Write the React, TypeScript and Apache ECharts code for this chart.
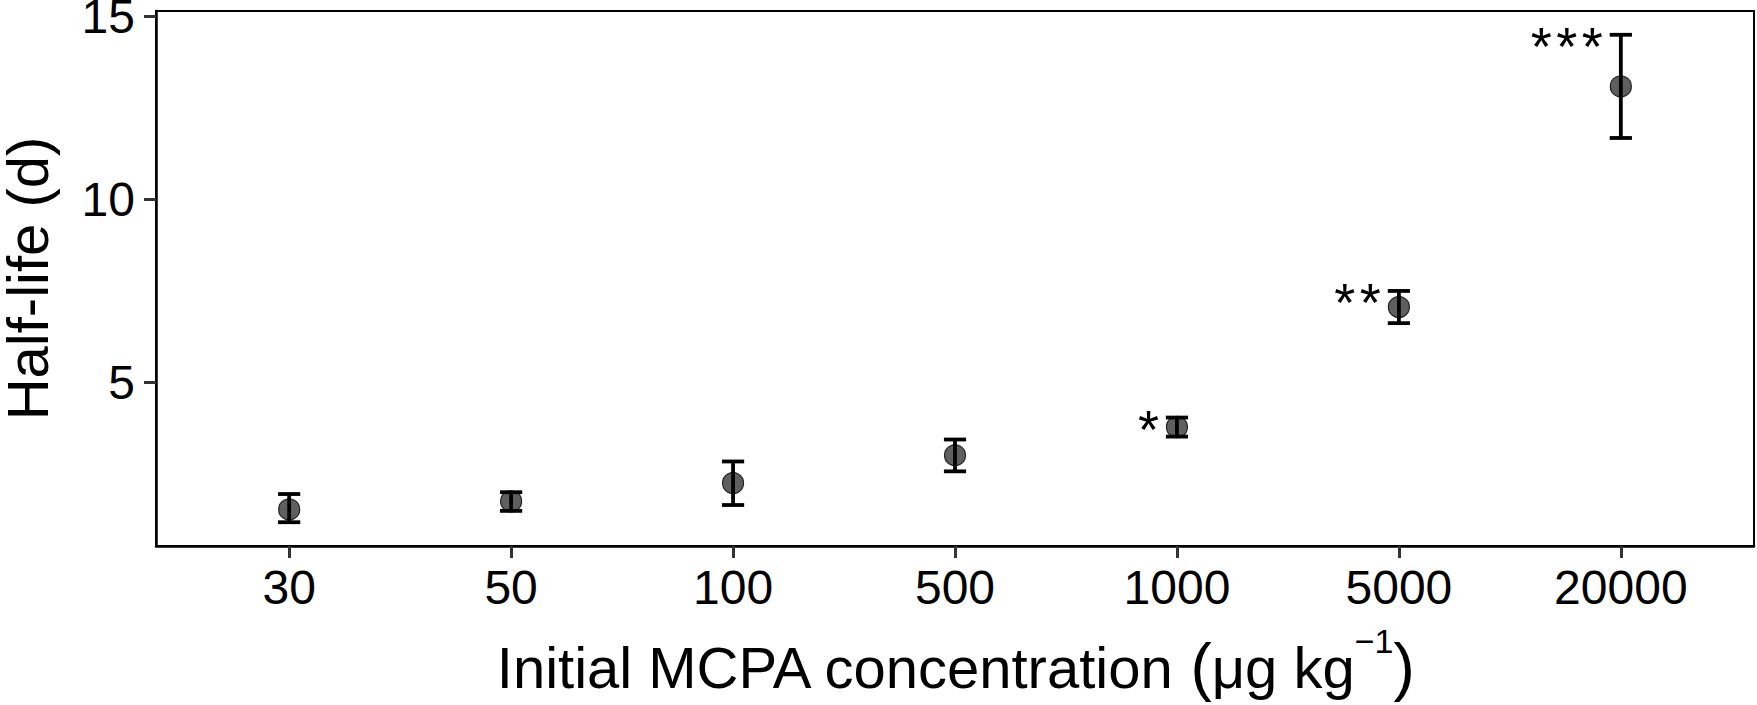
import React, { useEffect, useRef } from 'react';
import * as echarts from 'echarts';

const concentrations = ['30', '50', '100', '500', '1000', '5000', '20000'];
const halfLife = [1.52, 1.74, 2.24, 3.0, 3.77, 7.05, 13.08];
const upperErr = [1.94, 1.99, 2.83, 3.43, 4.03, 7.49, 14.49];
const lowerErr = [1.17, 1.48, 1.64, 2.56, 3.51, 6.61, 11.67];
const significance = ['', '', '', '', '*', '**', '***'];
const yTicks = [5, 10, 15];

const FONT = "'Liberation Sans', Arial, Helvetica, sans-serif";

export default function App() {
  const ref = useRef<HTMLDivElement>(null);

  useEffect(() => {
    const chart = echarts.init(ref.current as HTMLDivElement, null, { renderer: 'svg' });
    const idx = concentrations.map((_, i) => i);

    chart.setOption({
      animation: false,
      backgroundColor: '#ffffff',
      textStyle: { fontFamily: FONT },
      grid: {
        left: 156,
        right: 3,
        top: 11,
        bottom: 159,
        containLabel: false,
        outerBoundsMode: 'none',
        show: true,
        borderColor: '#000',
        borderWidth: 2,
        backgroundColor: 'transparent',
      },
      xAxis: {
        type: 'value',
        min: -0.6,
        max: 6.6,
        axisLine: { show: true, onZero: false, lineStyle: { color: '#000', width: 2.5 } },
        axisTick: {
          show: true,
          customValues: idx,
          length: 12,
          lineStyle: { color: '#333', width: 3 },
        },
        axisLabel: {
          customValues: idx,
          formatter: (v: number) => concentrations[Math.round(v)] ?? '',
          fontSize: 48,
          color: '#000',
          margin: 17,
          fontFamily: FONT,
        },
        splitLine: { show: false },
        name: '{base|Initial MCPA concentration }{paren|(}{base|μg kg}{sup|−1}{paren|)}',
        nameLocation: 'middle',
        nameGap: 92,
        nameTextStyle: {
          fontFamily: FONT,
          color: '#000',
          fontSize: 58,
          rich: {
            base: { fontSize: 58, fontFamily: FONT, color: '#000' },
            paren: { fontSize: 64, lineHeight: 58, fontFamily: FONT, color: '#000' },
            sup: {
              fontSize: 34,
              lineHeight: 6,
              padding: [0, 0, 52, 0],
              fontFamily: FONT,
              color: '#000',
            },
          },
        },
      },
      yAxis: {
        type: 'value',
        min: 0.52,
        max: 15.14,
        axisLine: { show: true, onZero: false, lineStyle: { color: '#000', width: 2.5 } },
        axisTick: {
          show: true,
          customValues: yTicks,
          length: 12,
          lineStyle: { color: '#333', width: 3 },
        },
        axisLabel: {
          customValues: yTicks,
          fontSize: 48,
          color: '#000',
          margin: 21,
          fontFamily: FONT,
        },
        splitLine: { show: false },
        name: 'Half-life (d)',
        nameLocation: 'middle',
        nameRotate: 90,
        nameGap: 100,
        nameTextStyle: { fontFamily: FONT, color: '#000', fontSize: 58 },
      },
      series: [
        {
          type: 'scatter',
          data: idx.map((i) => [i, halfLife[i]]),
          symbol: 'circle',
          symbolSize: 21,
          itemStyle: { color: '#5f5f5f', borderColor: '#222', borderWidth: 1.2, opacity: 1 },
          z: 2,
        },
        {
          type: 'custom',
          data: idx.map((i) => [i, lowerErr[i], upperErr[i]]),
          encode: { x: 0, y: [1, 2] },
          z: 3,
          renderItem: (params: any, api: any) => {
            const i = api.value(0);
            const lo = api.value(1);
            const hi = api.value(2);
            const top = api.coord([i, hi]);
            const bot = api.coord([i, lo]);
            const tl = api.coord([i - 0.05, hi]);
            const tr = api.coord([i + 0.05, hi]);
            const bl = api.coord([i - 0.05, lo]);
            const br = api.coord([i + 0.05, lo]);
            const style = { stroke: '#000', lineWidth: 3.8 };
            return {
              type: 'group',
              children: [
                { type: 'line', shape: { x1: top[0], y1: top[1], x2: bot[0], y2: bot[1] }, style },
                { type: 'line', shape: { x1: tl[0], y1: tl[1], x2: tr[0], y2: tr[1] }, style },
                { type: 'line', shape: { x1: bl[0], y1: bl[1], x2: br[0], y2: br[1] }, style },
                {
                  type: 'text',
                  x: top[0] - 18,
                  y: top[1] + 11,
                  style: {
                    text: significance[i].split('').join('\u200A'),
                    fontSize: 54,
                    fontFamily: FONT,
                    fill: '#000',
                    align: 'right',
                    verticalAlign: 'middle',
                  },
                },
              ],
            };
          },
        },
      ],
    });

    return () => {
      chart.dispose();
    };
  }, []);

  return (
    <div
      ref={ref}
      style={{ position: 'fixed', left: 0, top: 0, width: 1757, height: 705, background: '#fff' }}
    />
  );
}
